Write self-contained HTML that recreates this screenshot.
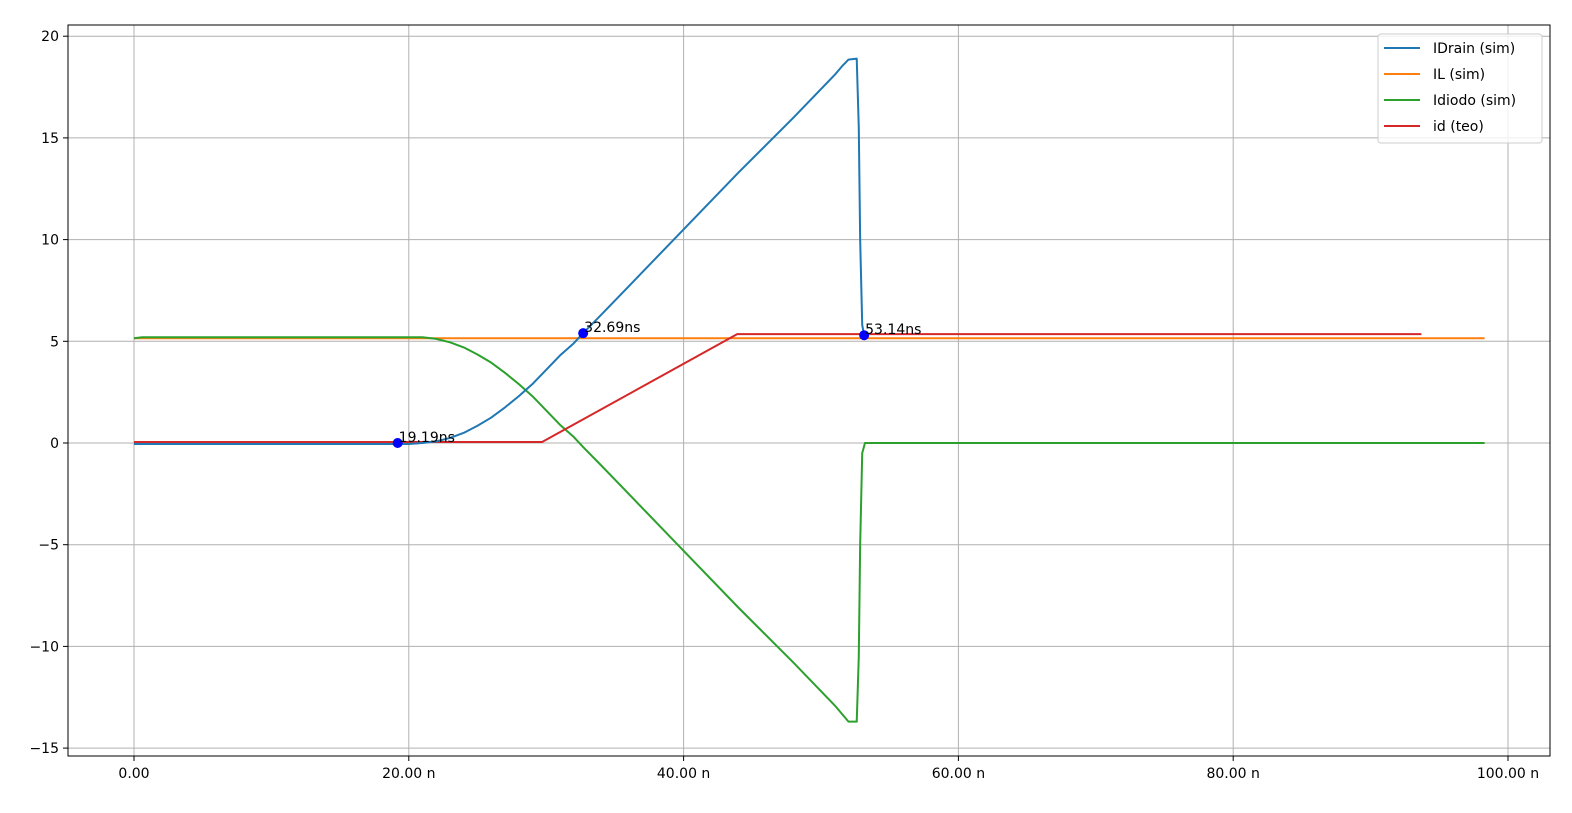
<!DOCTYPE html>
<html><head><meta charset="utf-8"><style>
body{margin:0;background:#fff;font-family:"Liberation Sans","DejaVu Sans",sans-serif}
svg text{font-family:"DejaVu Sans","Liberation Sans",sans-serif;font-size:14px;fill:#000}
</style></head><body>
<svg id="chart" width="1572" height="808" xmlns="http://www.w3.org/2000/svg"></svg>
<script>
const xTicks=[0,20,40,60,80,100];
const xTickLabels=["0.00","20.00 n","40.00 n","60.00 n","80.00 n","100.00 n"];
const yTicks=[-15,-10,-5,0,5,10,15,20];
const yTickLabels=["\u221215","\u221210","\u22125","0","5","10","15","20"];
const idrainT=[0,1,20,21,22,23,24,25,26,27,28,29,30,31,32,32.69,34,36,40,44,48,50,51,51.5,52,52.6,52.75,52.85,53.0,53.14];
const idrainV=[-0.05,-0.05,-0.05,0,0.08,0.25,0.5,0.85,1.25,1.75,2.3,2.9,3.6,4.3,4.9,5.4,6.3,7.7,10.5,13.3,16.0,17.4,18.1,18.5,18.85,18.9,15.5,10,5.8,5.3];
const ilT=[0,98.3];
const ilV=[5.15,5.15];
const idiodoT=[0,0.6,20,21,22,23,24,25,26,27,28,29,30,31,32,32.69,34,36,40,44,48,50,51,51.5,52,52.6,52.75,52.85,53.0,53.2,53.5,98.3];
const idiodoV=[5.15,5.2,5.2,5.2,5.12,4.95,4.7,4.35,3.95,3.45,2.9,2.3,1.6,0.9,0.3,-0.2,-1.1,-2.5,-5.3,-8.1,-10.8,-12.2,-12.9,-13.3,-13.7,-13.7,-10.5,-5,-0.5,0,0,0];
const idT=[0,29.7,43.9,93.7];
const idV=[0.05,0.05,5.35,5.35];
const markT=[19.19,32.69,53.14];
const markV=[0,5.4,5.3];
const markLabels=["19.19ns","32.69ns","53.14ns"];
const legendLabels=["IDrain (sim)","IL (sim)","Idiodo (sim)","id (teo)"];
const colors=["#1f77b4","#ff7f0e","#2ca02c","#d62728"];

const svg=document.getElementById('chart');
const NS='http://www.w3.org/2000/svg';
const L=68,R=1550,T=25,B=756;
const X=t=>134+t*13.74;
const Y=v=>443-v*20.34;
function mk(tag,attrs){const e=document.createElementNS(NS,tag);for(const k in attrs)e.setAttribute(k,attrs[k]);svg.appendChild(e);return e;}
xTicks.forEach((t,i)=>{
 const g=mk('line',{x1:X(t),x2:X(t),y1:T,y2:B,stroke:'#b0b0b0','stroke-width':1});
 
 
 mk('line',{x1:X(t),x2:X(t),y1:B,y2:B+5,stroke:'#000'});
 const tx=mk('text',{x:X(t),y:B+22,'text-anchor':'middle'});tx.textContent=xTickLabels[i];
 
 
});
yTicks.forEach((v,i)=>{
 const g=mk('line',{x1:L,x2:R,y1:Y(v),y2:Y(v),stroke:'#b0b0b0','stroke-width':1});
 
 
 mk('line',{x1:L-5,x2:L,y1:Y(v),y2:Y(v),stroke:'#000'});
 const tx=mk('text',{x:L-9,y:Y(v)+5,'text-anchor':'end'});tx.textContent=yTickLabels[i];
 
 
});
const series=[[idrainT,idrainV],[ilT,ilV],[idiodoT,idiodoV],[idT,idV]];
const names=['idrain-line','il-line','idiodo-line','id-teo-line'];
[1,2,3,0].forEach(i=>{
 const [ts,vs]=series[i];
 const p=mk('polyline',{points:ts.map((t,j)=>X(t)+','+Y(vs[j])).join(' '),fill:'none',stroke:colors[i],'stroke-width':2,'stroke-linejoin':'round'});
 
 
});
markT.forEach((t,i)=>{
 const c=mk('circle',{cx:X(t),cy:Y(markV[i]),r:5,fill:'#0000ff'});
 
 
 const tx=mk('text',{x:X(t)+1,y:Y(markV[i])-1});tx.textContent=markLabels[i];
 
 
});
const fr=mk('rect',{x:L,y:T,width:R-L,height:B-T,fill:'none',stroke:'#000','stroke-width':1});


const lg=mk('rect',{x:1378,y:34,width:164,height:109,fill:'#fff','fill-opacity':0.8,stroke:'#ccc',rx:3});


legendLabels.forEach((s,i)=>{
 const y=48+i*26;
 const ln=mk('line',{x1:1384,x2:1420,y1:y,y2:y,stroke:colors[i],'stroke-width':2});
 
 
 const tx=mk('text',{x:1433,y:y+5});tx.textContent=s;
 
 
});
</script>
</body></html>
